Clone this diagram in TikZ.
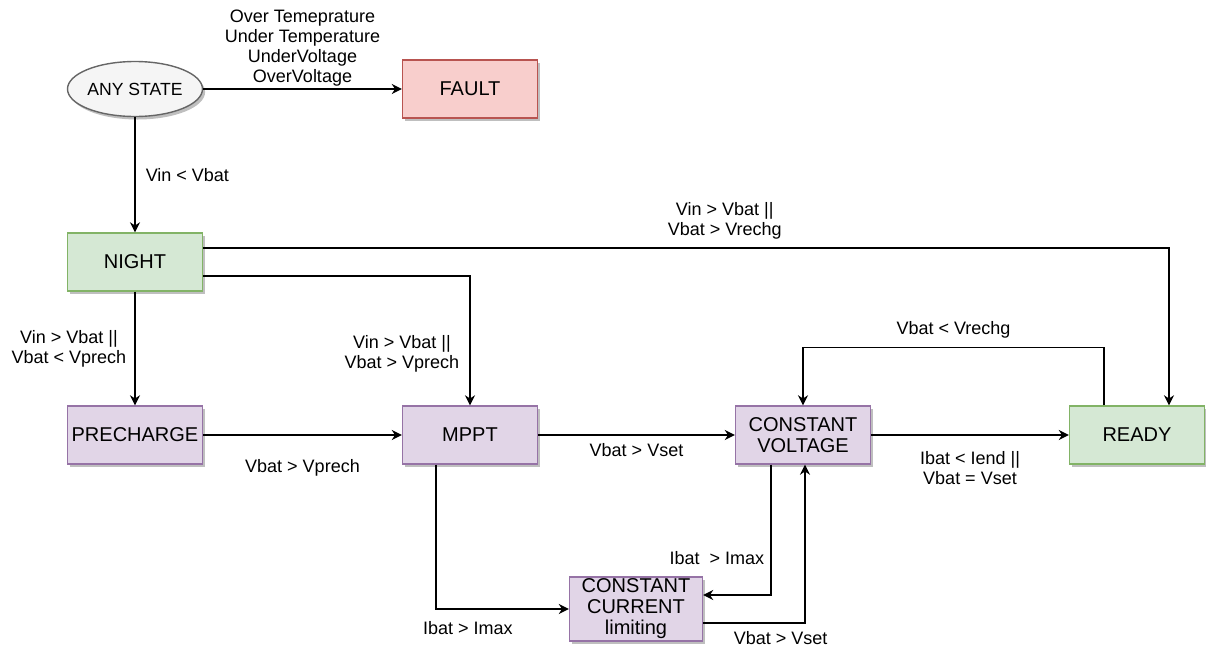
\documentclass[tikz,border=0pt]{standalone}
\usepackage{fontspec}
\setmainfont{Liberation Sans}
\usepackage{tikz}
\usetikzlibrary{arrows.meta, shapes.geometric, shadows}

\definecolor{grnfill}{HTML}{D5E8D4}
\definecolor{grndraw}{HTML}{82B366}
\definecolor{purfill}{HTML}{E1D5E7}
\definecolor{purdraw}{HTML}{9673A6}
\definecolor{redfill}{HTML}{F8CECC}
\definecolor{reddraw}{HTML}{B85450}
\definecolor{gryfill}{HTML}{F5F5F5}
\definecolor{grydraw}{HTML}{666666}

\begin{document}
\begin{tikzpicture}[
      x=0.5pt, y=-0.5pt,
      box/.style={rectangle, line width=0.7pt, minimum width=67.5pt,
        minimum height=29pt, align=center, inner sep=1pt,
        font=\fontsize{10}{10.5}\selectfont,
        drop shadow={shadow xshift=1.3pt, shadow yshift=-1.5pt,
          fill=black, opacity=0.25}},
      greenbox/.style={box, draw=grndraw, fill=grnfill},
      purplebox/.style={box, draw=purdraw, fill=purfill},
      faultbox/.style={box, draw=reddraw, fill=redfill},
      anybox/.style={ellipse, line width=0.7pt, draw=grydraw, fill=gryfill,
        minimum width=67.5pt, minimum height=27.5pt, inner sep=0pt,
        font=\fontsize{8.8}{10}\selectfont,
        drop shadow={shadow xshift=1.3pt, shadow yshift=-1.5pt,
          fill=black, opacity=0.25}},
      lbl/.style={align=center, font=\fontsize{9}{10}\selectfont, inner sep=2pt},
      arrow/.style={-{Stealth[length=5pt, width=5pt, inset=1.6pt]}, line width=0.75pt}
    ]
    \useasboundingbox (0,0) rectangle (1206,649);

    % ---- top row ----
    \node[anybox]    (any)   at (135,89)   {ANY STATE};
    \node[faultbox]  (fault) at (470,89)   {FAULT};

    % ---- left column ----
    \node[greenbox]  (night) at (135,262)  {NIGHT};
    \node[purplebox] (pre)   at (135,435)  {PRECHARGE};

    % ---- charging row ----
    \node[purplebox] (mppt)  at (470,435)  {MPPT};
    \node[purplebox] (cv)    at (803,435)  {CONSTANT\\VOLTAGE};
    \node[greenbox]  (ready) at (1137,435) {READY};
    \node[purplebox, minimum width=66.5pt] (cc) at (636,609)
      {CONSTANT\\CURRENT\\limiting};

    \draw[arrow] (any) -- (fault)
      node[lbl, midway, above=-1pt] {Over Temeprature\\Under Temperature\\UnderVoltage\\OverVoltage};
    \draw[arrow] (any) -- (night) node[lbl, midway, right=3pt] {Vin < Vbat};
    \draw[arrow] (night) -- (pre)
      node[lbl, midway, left=2pt] {Vin > Vbat ||\\Vbat < Vprech};
    \draw[arrow] ([yshift=7pt]night.east) -| ([xshift=16pt]ready.north)
      node[lbl, pos=0.27, above=2pt] {Vin > Vbat ||\\Vbat > Vrechg};
    \draw[arrow] ([yshift=-7pt]night.east) -| (mppt.north)
      node[lbl, pos=0.8, left=3pt] {Vin > Vbat ||\\Vbat > Vprech};

    \draw[arrow] (pre) -- (mppt) node[lbl, midway, below=10pt] {Vbat > Vprech};
    \draw[arrow] (mppt) -- (cv) node[lbl, midway, below=2pt] {Vbat > Vset};
    \draw[arrow] (cv) -- (ready)
      node[lbl, midway, below=6pt] {Ibat < Iend ||\\Vbat = Vset};

    % back from READY when the battery sags
    \draw[arrow] ([xshift=-16.5pt]ready.north) -- ([xshift=-16.5pt, yshift=29pt]ready.north)
      -| (cv.north) node[lbl, pos=0.25, above=2pt] {Vbat < Vrechg};

    % current limiting loop
    \draw[arrow] ([xshift=-17pt]mppt.south) |- (cc.west)
      node[lbl, pos=0.62, below=4pt] {Ibat > Imax};
    \draw[arrow] ([xshift=-16pt]cv.south) |- ([yshift=7pt]cc.east)
      node[lbl, pos=0.36, left=1pt] {Ibat\ \ > Imax};
    \draw[arrow] ([yshift=-7pt]cc.east) -| ([xshift=1pt]cv.south)
      node[lbl, pos=0.38, below=2pt] {Vbat > Vset};
  \end{tikzpicture}
\end{document}
